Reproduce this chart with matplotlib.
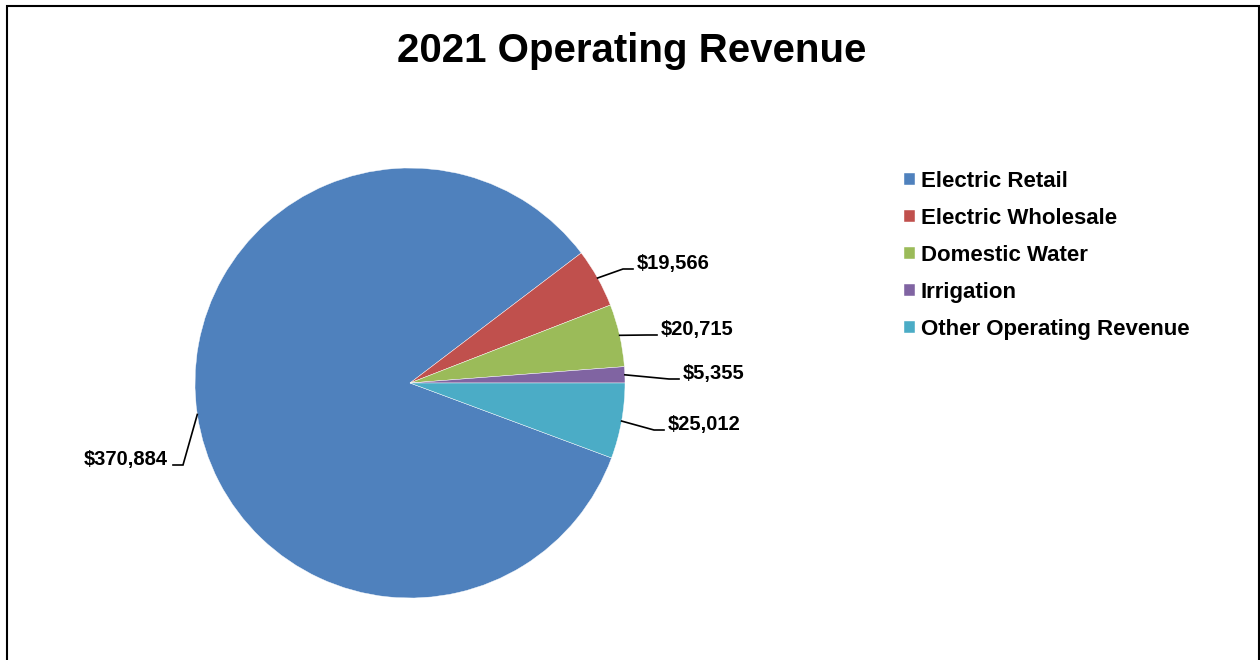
import numpy as np
import matplotlib.pyplot as plt
from matplotlib.patches import Rectangle

plt.rcParams['font.family'] = ['Liberation Sans', 'DejaVu Sans']
plt.rcParams['font.weight'] = 'bold'

categories = ['Electric Retail', 'Electric Wholesale', 'Domestic Water',
              'Irrigation', 'Other Operating Revenue']
revenue = [370884, 19566, 20715, 5355, 25012]
colors = ['#4F81BD', '#C0504D', '#9BBB59', '#8064A2', '#4BACC6']

W, H = 1260, 660
fig = plt.figure(figsize=(W / 100, H / 100), dpi=100)

# pie centre (410, 383) px, radius 215 px
cx, cy, r = 410, 383, 215
ax = fig.add_axes([(cx - r) / W, (H - cy - r) / H, 2 * r / W, 2 * r / H])
total = sum(revenue)
start = -360 * revenue[-1] / total
wedges, _ = ax.pie(revenue, colors=colors, startangle=start, counterclock=False,
                   radius=1, wedgeprops=dict(edgecolor='white', linewidth=0.3))
ax.set_xlim(-1, 1)
ax.set_ylim(-1, 1)
ax.set_aspect('equal')
ax.axis('off')


def px(x, y):
    return (x - cx) / r, (cy - y) / r


# label text anchor in px: (x, y centre, side)
label_pos = [(168, 459, 'right'), (637, 263, 'left'), (661, 329, 'left'),
             (683, 373, 'left'), (668, 424, 'left')]

for w, val, (tx, ty, side) in zip(wedges, revenue, label_pos):
    mid = np.deg2rad((w.theta1 + w.theta2) / 2)
    ex, ey = np.cos(mid), np.sin(mid)
    ly = ty + 6
    if side == 'left':
        end = px(tx - 4, ly)
        elbow = px(tx - 14, ly)
    else:
        end = px(tx + 5, ly)
        elbow = px(tx + 15, ly)
    ax.plot([ex, elbow[0], end[0]], [ey, elbow[1], end[1]], color='black',
            lw=1.2, clip_on=False, solid_joinstyle='miter')
    lx, lyy = px(tx, ty)
    ax.text(lx, lyy, f'${val:,}', ha=side, va='center', fontsize=14.5,
            fontweight='bold')

fig.text(632 / W, 1 - 51 / H, '2021 Operating Revenue', ha='center',
         va='center', fontsize=29, fontweight='bold')

fig.legend(wedges, categories, loc='upper left',
           bbox_to_anchor=(904 / W, 1 - 171 / H), frameon=False,
           fontsize=16, handlelength=0.5, handleheight=0.5,
           handletextpad=0.25, labelspacing=0.72, borderpad=0,
           borderaxespad=0)

fig.patches.append(Rectangle((6.5 / W, -0.05), 1252 / W, 1.05 - 5.5 / H,
                             transform=fig.transFigure, fill=False,
                             edgecolor='black', linewidth=1.5))

fig.savefig('out.png', dpi=100)
